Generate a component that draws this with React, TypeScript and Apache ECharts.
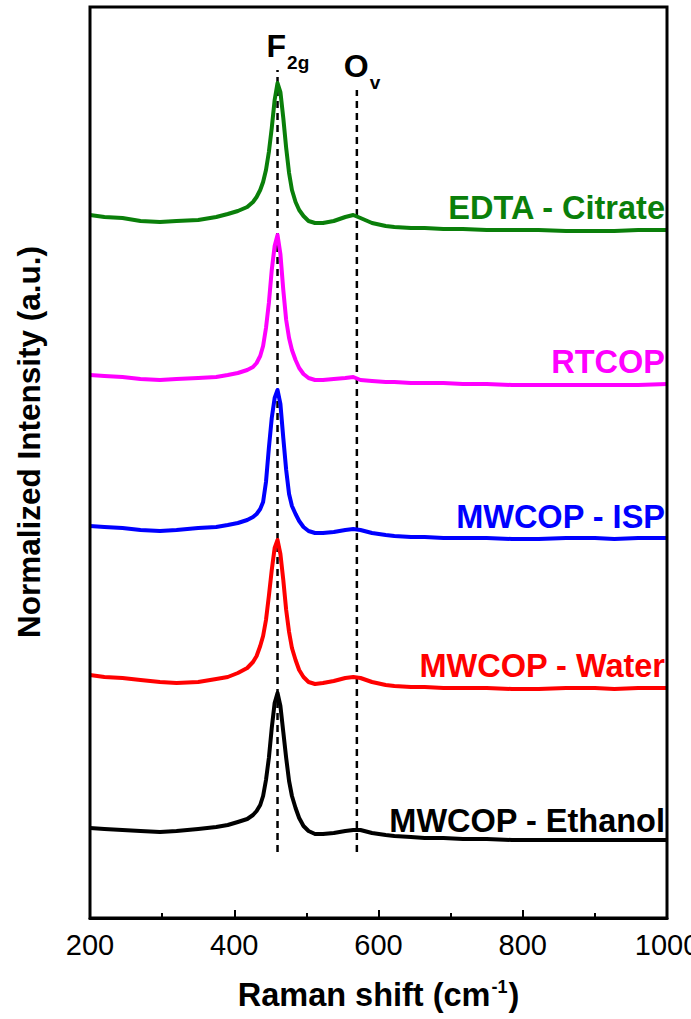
import { useEffect, useRef } from "react";
import * as echarts from "echarts";

// Raman shift sampling points (cm^-1)
const ramanShift = [
  200, 220, 245, 270, 297, 320, 350, 375, 391, 405, 418, 426, 431, 436, 440, 444, 448, 452, 456, 460,
  464, 468, 472, 476, 480, 485, 490, 496, 503, 512, 523, 538, 554, 565, 575, 591, 610, 622, 645, 664,
  690, 717, 750, 785, 822, 860, 900, 927, 960, 1000,
];

// Stacked, normalized intensities (a.u.) for each sample
const edtaCitrate = [
  703, 701, 700, 697, 696, 697, 698, 701, 704, 707, 711, 716, 721, 728, 736, 748, 766, 790, 818, 835,
  826, 800, 770, 745, 728, 716, 708, 702, 697, 695, 695, 697, 701, 703, 700, 695, 692, 691, 690, 690,
  689, 689, 688, 688, 688, 687, 687, 687, 688, 688,
];
const rtcop = [
  543, 542, 541, 539, 538, 539, 540, 541, 543, 545, 548, 551, 555, 562, 572, 590, 615, 648, 672, 683,
  664, 628, 598, 580, 568, 558, 550, 544, 540, 538, 538, 539, 540, 541, 538, 537, 536, 536, 535, 535,
  535, 534, 534, 533, 533, 533, 533, 533, 533, 534,
];
const mwcopIsp = [
  392, 391, 390, 388, 387, 388, 390, 391, 393, 395, 398, 401, 404, 409, 416, 436, 470, 500, 520, 528,
  514, 480, 448, 424, 412, 404, 397, 391, 387, 385, 385, 386, 388, 389, 388, 385, 383, 382, 381, 381,
  380, 380, 380, 379, 379, 380, 380, 379, 380, 380,
];
const mwcopWater = [
  243, 241, 240, 238, 236, 235, 236, 239, 241, 245, 250, 256, 262, 272, 282, 298, 322, 348, 370, 378,
  364, 338, 308, 286, 270, 258, 248, 241, 236, 234, 235, 237, 240, 241, 240, 236, 233, 232, 231, 231,
  230, 230, 230, 229, 229, 230, 230, 229, 230, 230,
];
const mwcopEthanol = [
  90, 89, 88, 87, 86, 87, 89, 91, 93, 96, 99, 103, 107, 113, 122, 138, 160, 190, 215, 225,
  212, 186, 160, 137, 122, 110, 100, 92, 87, 84, 84, 85, 87, 88, 88, 85, 83, 82, 81, 80,
  80, 79, 79, 78, 78, 78, 78, 78, 78, 78,
];

// Band positions (cm^-1) and the intensity span of their guide lines
const F2G_SHIFT = 460;
const OV_SHIFT = 570;
const f2gSpan = [66, 848];
const ovSpan = [66, 828];

const xTicks = [200, 400, 600, 800, 1000];

const spectra = [
  { name: "EDTA - Citrate", color: "#0a7f0a", values: edtaCitrate, lift: -22 },
  { name: "RTCOP", color: "#ff00ff", values: rtcop, lift: -22 },
  { name: "MWCOP - ISP", color: "#0000ff", values: mwcopIsp, lift: -21 },
  { name: "MWCOP - Water", color: "#ff0000", values: mwcopWater, lift: -22 },
  { name: "MWCOP - Ethanol", color: "#000000", values: mwcopEthanol, lift: -19 },
];

const SANS = '"Liberation Sans", Arial, sans-serif';
const NARROW = '"Liberation Sans Narrow", "Arial Narrow", "Liberation Sans", sans-serif';

function bandLine(shift: number, span: number[], main: string, sub: string, shiftLeft: number) {
  return {
    type: "line",
    silent: true,
    symbol: "circle",
    symbolSize: 0,
    showSymbol: true,
    z: 1,
    lineStyle: { color: "#000", width: 2.5, type: [7, 5] },
    itemStyle: { color: "#000" },
    data: [
      [shift, span[0]],
      {
        value: [shift, span[1]],
        label: {
          show: true,
          position: "top",
          distance: 1,
          align: "left",
          offset: [shiftLeft, -3],
          formatter: `{m|${main}}{s|${sub}}`,
          rich: {
            m: { fontFamily: SANS, fontWeight: "bold", fontSize: 32, color: "#000", lineHeight: 36, verticalAlign: "top" },
            s: {
              fontFamily: SANS,
              fontWeight: "bold",
              fontSize: 19,
              color: "#000",
              lineHeight: 20,
              verticalAlign: "top",
              padding: [23, 0, 0, 1],
            },
          },
        },
      },
    ],
  };
}

export default function App() {
  const ref = useRef<HTMLDivElement>(null);

  useEffect(() => {
    if (!ref.current) return;
    const chart = echarts.init(ref.current, undefined, { renderer: "svg" });

    const curveSeries = spectra.map((s) => ({
      type: "line",
      name: s.name,
      showSymbol: true,
      symbol: "circle",
      symbolSize: 0,
      z: 3,
      lineStyle: { color: s.color, width: 4, join: "round" },
      itemStyle: { color: s.color },
      data: ramanShift.map((x, i) =>
        i === ramanShift.length - 1
          ? {
              value: [x, s.values[i]],
              label: {
                show: true,
                position: [0, 0],
                align: "right",
                verticalAlign: "middle",
                offset: [-2, s.lift],
                formatter: s.name,
                color: s.color,
                fontFamily: SANS,
                fontWeight: "bold",
                fontSize: 32.5,
              },
            }
          : [x, s.values[i]]
      ),
    }));

    chart.setOption({
      animation: false,
      backgroundColor: "#fff",
      grid: {
        left: 90,
        right: 24,
        top: 7,
        bottom: 101,
        outerBoundsMode: "none",
        containLabel: false,
        show: true,
        borderColor: "#000",
        borderWidth: 3,
        backgroundColor: "transparent",
        z: 5,
      },
      xAxis: {
        type: "value",
        min: xTicks[0],
        max: xTicks[xTicks.length - 1],
        interval: 200,
        name: "{t|Raman shift (cm}{p|-1}{t|)}",
        nameLocation: "middle",
        nameGap: 60,
        nameTextStyle: {
          rich: {
            t: { fontFamily: SANS, fontWeight: "bold", fontSize: 32.5, color: "#000", lineHeight: 34, verticalAlign: "top" },
            p: { fontFamily: SANS, fontWeight: "bold", fontSize: 18, color: "#000", lineHeight: 18, verticalAlign: "top", padding: [0, 1, 0, 1] },
          },
        },
        axisLine: { show: true, lineStyle: { color: "#000", width: 3 } },
        axisTick: { show: true, inside: true, length: 8, lineStyle: { color: "#000", width: 2 } },
        minorTick: { show: true, splitNumber: 2, length: 5, lineStyle: { color: "#000", width: 2 } },
        axisLabel: {
          color: "#000",
          fontFamily: NARROW,
          fontSize: 29,
          margin: 12,
          formatter: (v: number) => String(v),
        },
        splitLine: { show: false },
        minorSplitLine: { show: false },
      },
      yAxis: {
        type: "value",
        min: 0,
        max: 911,
        show: false,
        splitLine: { show: false },
      },
      graphic: [
        {
          type: "text",
          x: 29,
          y: 442,
          rotation: Math.PI / 2,
          style: {
            text: "Normalized Intensity (a.u.)",
            font: `bold 31.5px ${SANS}`,
            fill: "#000",
            align: "center",
            verticalAlign: "middle",
          },
        },
      ],
      series: [
        bandLine(F2G_SHIFT, f2gSpan, "F", "2g", -11),
        bandLine(OV_SHIFT, ovSpan, "O", "v", -13),
        ...curveSeries,
      ],
    });

    return () => chart.dispose();
  }, []);

  return (
    <div
      ref={ref}
      style={{ position: "fixed", left: 0, top: 0, width: 691, height: 1019, background: "#fff" }}
    />
  );
}
